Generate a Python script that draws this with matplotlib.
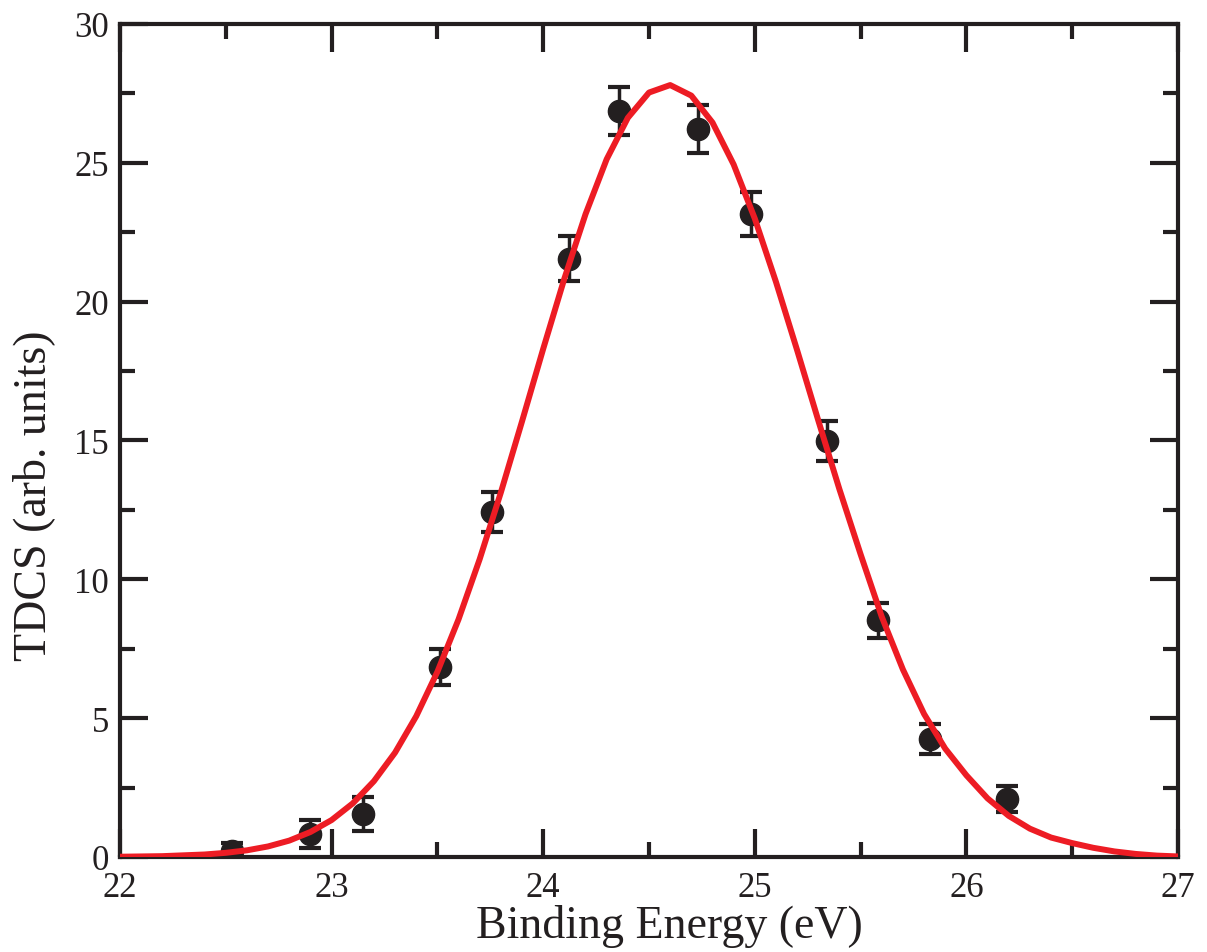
import matplotlib.pyplot as plt
from matplotlib.ticker import MultipleLocator

# measured TDCS vs binding energy
energy = [22.53, 22.90, 23.15, 23.51, 23.76, 24.12, 24.36, 24.73, 24.98, 25.34, 25.58, 25.83, 26.19]
tdcs = [0.22, 0.83, 1.55, 6.84, 12.42, 21.55, 26.86, 26.22, 23.15, 14.98, 8.52, 4.25, 2.09]
tdcs_err = [0.30, 0.50, 0.60, 0.65, 0.72, 0.80, 0.86, 0.85, 0.80, 0.72, 0.63, 0.55, 0.48]

# fitted curve
fit_e = [22.0, 22.2, 22.4, 22.5, 22.6, 22.7, 22.8, 22.9, 23.0, 23.1, 23.2, 23.3, 23.4,
         23.5, 23.6, 23.7, 23.8, 23.9, 24.0, 24.1, 24.2, 24.3, 24.4, 24.5, 24.6, 24.7,
         24.8, 24.9, 25.0, 25.1, 25.2, 25.3, 25.4, 25.5, 25.6, 25.7, 25.8, 25.9, 26.0,
         26.1, 26.2, 26.3, 26.4, 26.5, 26.6, 26.7, 26.8, 26.9, 27.0]
fit_y = [0.01, 0.03, 0.09, 0.15, 0.24, 0.38, 0.59, 0.90, 1.33, 1.93, 2.73, 3.76, 5.07,
         6.67, 8.56, 10.73, 13.13, 15.69, 18.30, 20.83, 23.15, 25.13, 26.62, 27.53, 27.80, 27.42,
         26.45, 24.94, 22.99, 20.71, 18.25, 15.72, 13.24, 10.90, 8.65, 6.75, 5.15, 3.90, 2.94,
         2.11, 1.48, 1.02, 0.70, 0.50, 0.33, 0.20, 0.11, 0.05, 0.02]

plt.rcParams['font.family'] = ['Liberation Serif', 'DejaVu Serif']

fig = plt.figure(figsize=(12.07, 9.53), dpi=100)
ax = fig.add_axes([0.0994, 0.0997, 0.8766, 0.8741])

ink = '#231f20'
ax.plot(fit_e, fit_y, color='#ed1c24', lw=4.3, zorder=3, solid_capstyle='butt')
ax.errorbar(energy, tdcs, yerr=tdcs_err, fmt='o', color=ink, ms=16, elinewidth=2.5,
            capsize=8, capthick=3, zorder=2)

ax.set_xlim(22, 27)
ax.set_ylim(0, 30)
ax.xaxis.set_major_locator(MultipleLocator(1))
ax.xaxis.set_minor_locator(MultipleLocator(0.5))
ax.yaxis.set_major_locator(MultipleLocator(5))
ax.yaxis.set_minor_locator(MultipleLocator(2.5))

for s in ax.spines.values():
    s.set_linewidth(3)
    s.set_color(ink)
ax.tick_params(which='both', direction='in', top=True, right=True, width=3, color=ink,
               labelsize=25, labelcolor=ink)
ax.tick_params(which='major', length=20)
ax.tick_params(which='minor', length=11)
ax.tick_params(axis='x', pad=10)
ax.tick_params(axis='y', pad=8)

ax.set_xlabel('Binding Energy (eV)', fontsize=33, color=ink)
ax.set_ylabel('TDCS (arb. units)', fontsize=33, color=ink)
ax.xaxis.set_label_coords(0.519, -0.057)
ax.yaxis.set_label_coords(-0.082, 0.435)
ax.xaxis.label.set_va('top')
ax.yaxis.label.set_va('center')

fig.savefig('out.png', dpi=100)
